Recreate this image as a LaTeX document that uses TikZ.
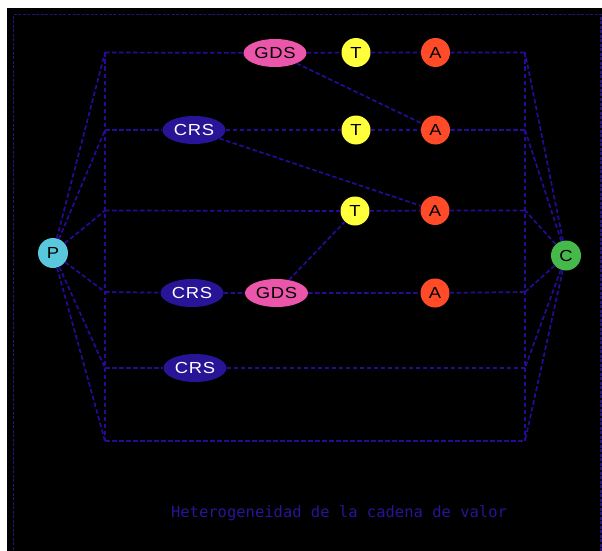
\documentclass[tikz,border=0pt]{standalone}
\usepackage{fontspec}
\usetikzlibrary{shapes.geometric}
\newfontfamily\labelfont[FakeStretch=1.15,LetterSpace=4]{Liberation Sans}
\newfontfamily\captionfont{DejaVu Sans Mono}
\definecolor{linkblue}{RGB}{40,10,150}
\definecolor{framepurple}{RGB}{45,15,120}
\definecolor{gdspink}{RGB}{235,85,170}
\definecolor{crsblue}{RGB}{40,20,150}
\definecolor{tyellow}{RGB}{255,255,60}
\definecolor{ared}{RGB}{255,75,40}
\definecolor{pcyan}{RGB}{90,200,220}
\definecolor{cgreen}{RGB}{70,185,75}
\begin{document}
\begin{tikzpicture}[x=1pt,y=-1pt,
  link/.style={draw=linkblue, line width=1.7pt, dash pattern=on 4.5pt off 2.5pt},
  token/.style={circle, minimum size=29pt, inner sep=0pt, text=black,
    font=\labelfont\fontsize{16}{16}\selectfont},
  oval/.style={ellipse, minimum width=63pt, minimum height=28pt, inner sep=0pt,
    font=\labelfont\fontsize{16}{16}\selectfont},
  gds/.style={oval, fill=gdspink, text=black},
  crs/.style={oval, fill=crsblue, text=white},
  tnode/.style={token, fill=tyellow},
  anode/.style={token, fill=ared},
  end/.style={token, minimum size=30pt}
]
\useasboundingbox (0,0) rectangle (602,551);
% background panel and its outer frame
\fill[white] (0,0) rectangle (602,551);
\fill[black] (7,8) rectangle (602,551);
\draw[framepurple, line width=1.2pt, dash pattern=on 3pt off 1.5pt]
  (601,551) -- (601,14.5) -- (13.5,14.5) -- (13.5,551);

% row end points on the left and right bars
\foreach \i/\y in {1/52.5,2/130,3/210.5,4/292,5/368,6/441}{
  \coordinate (L\i) at (105,\y);
  \coordinate (R\i) at (525,\y);
}

% producer and consumer
\node[end, fill=pcyan] (P) at (53,253) {P};
\node[end, fill=cgreen] (C) at (566,255.5) {C};

% chain nodes
\node[gds]   (g1) at (275,53)  {GDS};
\node[tnode] (t1) at (356,52.5) {T};
\node[anode] (a1) at (435.5,52.5) {A};

\node[crs]   (c2) at (194,130) {CRS};
\node[tnode] (t2) at (356,130) {T};
\node[anode] (a2) at (435.5,130) {A};

\node[tnode] (t3) at (355,211) {T};
\node[anode] (a3) at (435,210.5) {A};

\node[crs]   (c4) at (192,293) {CRS};
\node[gds]   (g4) at (276.5,293) {GDS};
\node[anode] (a4) at (435,293) {A};

\node[crs]   (c5) at (195,368) {CRS};

% bars
\draw[link] (L1) -- (L6);
\draw[link] (R1) -- (R6);

% rows
\draw[link] (L1) -- (g1) -- (t1) -- (a1) -- (R1);
\draw[link] (L2) -- (c2) -- (t2) -- (a2) -- (R2);
\draw[link] (L3) -- (t3) -- (a3) -- (R3);
\draw[link] (L4) -- (c4) -- (g4) -- (a4) -- (R4);
\draw[link] (L5) -- (c5) -- (R5);
\draw[link] (L6) -- (R6);

% fans from P and into C
\foreach \i in {1,...,6}{
  \draw[link] (P) -- (L\i);
  \draw[link] (C) -- (R\i);
}

% cross links between rows
\draw[link] (g1) -- (a2);
\draw[link] (c2) -- (a3);
\draw[link] (g4) -- (t3);

% caption
\node[text=crsblue, font=\captionfont\fontsize{15.5}{15.5}\selectfont] (title)
  at (339,513) {Heterogeneidad de la cadena de valor};
\end{tikzpicture}
\end{document}
